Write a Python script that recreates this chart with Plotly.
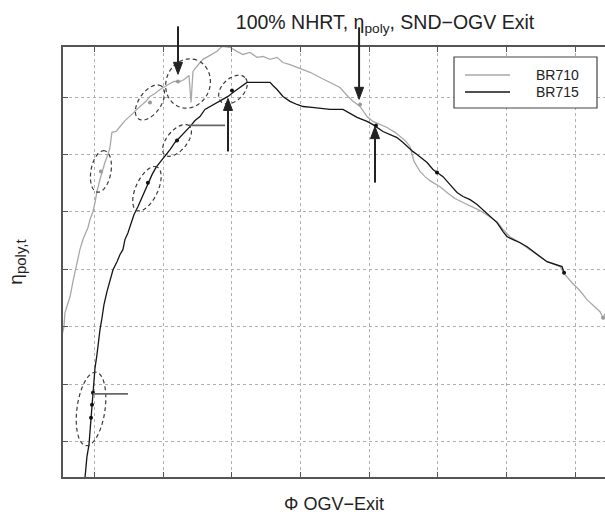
import numpy as np
import plotly.graph_objects as go

# ---------------- data ----------------
br710_phi = [0.3763, 0.3778, 0.3785, 0.3807, 0.3822, 0.3843, 0.3858, 0.3873, 0.3894, 0.3916,
             0.3953, 0.3967, 0.3989, 0.4004, 0.4018, 0.4040, 0.4055, 0.4076, 0.4098, 0.4113,
             0.4120, 0.4127, 0.4157, 0.4178, 0.4193, 0.4222, 0.4251, 0.4280, 0.4309, 0.4346,
             0.4375, 0.4404, 0.4440, 0.4477, 0.4513, 0.4550, 0.4579, 0.4622, 0.4652, 0.4688,
             0.4703, 0.4717, 0.4746, 0.4790, 0.4841, 0.4892, 0.4928, 0.4986, 0.5037, 0.5081,
             0.5132, 0.5183, 0.5227, 0.5278, 0.5329, 0.5372, 0.5423, 0.5474, 0.5518, 0.5569,
             0.5642, 0.5714, 0.5787, 0.5845, 0.5882, 0.5933, 0.5955, 0.5984, 0.6027, 0.6078,
             0.6129, 0.6188, 0.6224, 0.6260, 0.6297, 0.6311, 0.6326, 0.6370, 0.6406, 0.6442,
             0.6515, 0.6566, 0.6624, 0.6683, 0.6748, 0.6806, 0.6865, 0.6930, 0.6974, 0.7025,
             0.7098, 0.7192, 0.7294, 0.7389, 0.7425, 0.7476, 0.7534, 0.7585, 0.7629, 0.7680,
             0.7702, 0.7716]
br710_eta = [0.8369, 0.8401, 0.8449, 0.8484, 0.8505, 0.8557, 0.8592, 0.8624, 0.8669, 0.8704,
             0.8746, 0.8773, 0.8801, 0.8833, 0.8871, 0.8913, 0.8941, 0.8972, 0.9000, 0.9024,
             0.9052, 0.9077, 0.9080, 0.9094, 0.9101, 0.9118, 0.9129, 0.9143, 0.9157, 0.9171,
             0.9185, 0.9202, 0.9212, 0.9226, 0.9237, 0.9247, 0.9254, 0.9254, 0.9261, 0.9275,
             0.9181, 0.9289, 0.9307, 0.9331, 0.9345, 0.9359, 0.9376, 0.9373, 0.9359, 0.9348,
             0.9355, 0.9338, 0.9341, 0.9331, 0.9338, 0.9320, 0.9313, 0.9303, 0.9296, 0.9286,
             0.9268, 0.9251, 0.9233, 0.9202, 0.9185, 0.9167, 0.9153, 0.9132, 0.9115, 0.9104,
             0.9094, 0.9077, 0.9063, 0.9049, 0.9028, 0.9000, 0.8976, 0.8941, 0.8923, 0.8909,
             0.8888, 0.8868, 0.8847, 0.8833, 0.8819, 0.8805, 0.8787, 0.8766, 0.8739, 0.8714,
             0.8693, 0.8662, 0.8627, 0.8610, 0.8582, 0.8554, 0.8526, 0.8495, 0.8474, 0.8453,
             0.8432, 0.8446]

br715_phi = [0.3931, 0.3938, 0.3945, 0.3960, 0.3967, 0.3975, 0.3982, 0.3989, 0.3996, 0.4004,
             0.4018, 0.4025, 0.4040, 0.4055, 0.4069, 0.4091, 0.4113, 0.4135, 0.4164, 0.4186,
             0.4207, 0.4222, 0.4244, 0.4266, 0.4288, 0.4317, 0.4339, 0.4360, 0.4389, 0.4419,
             0.4448, 0.4477, 0.4513, 0.4550, 0.4586, 0.4622, 0.4659, 0.4695, 0.4732, 0.4768,
             0.4804, 0.4841, 0.4877, 0.4914, 0.4950, 0.4972, 0.5008, 0.5037, 0.5074, 0.5110,
             0.5183, 0.5278, 0.5299, 0.5329, 0.5372, 0.5423, 0.5474, 0.5518, 0.5583, 0.5642,
             0.5714, 0.5809, 0.5860, 0.5911, 0.5984, 0.6027, 0.6100, 0.6151, 0.6202, 0.6246,
             0.6275, 0.6319, 0.6348, 0.6391, 0.6421, 0.6464, 0.6493, 0.6537, 0.6588, 0.6639,
             0.6683, 0.6734, 0.6785, 0.6828, 0.6879, 0.6930, 0.6974, 0.7003, 0.7047, 0.7098,
             0.7149, 0.7192, 0.7243, 0.7294, 0.7338, 0.7374, 0.7403, 0.7418]
br715_eta = [0.7875, 0.7909, 0.7948, 0.7990, 0.8035, 0.8084, 0.8129, 0.8171, 0.8216, 0.8258,
             0.8303, 0.8338, 0.8390, 0.8432, 0.8477, 0.8523, 0.8564, 0.8599, 0.8627, 0.8652,
             0.8669, 0.8704, 0.8728, 0.8756, 0.8791, 0.8819, 0.8843, 0.8868, 0.8902, 0.8930,
             0.8955, 0.8972, 0.8993, 0.9017, 0.9042, 0.9059, 0.9080, 0.9097, 0.9118, 0.9132,
             0.9157, 0.9167, 0.9178, 0.9185, 0.9195, 0.9202, 0.9216, 0.9226, 0.9240, 0.9251,
             0.9251, 0.9251, 0.9240, 0.9226, 0.9202, 0.9185, 0.9174, 0.9167, 0.9164, 0.9160,
             0.9157, 0.9157, 0.9143, 0.9129, 0.9115, 0.9104, 0.9080, 0.9070, 0.9059, 0.9042,
             0.9028, 0.9010, 0.9000, 0.8982, 0.8972, 0.8948, 0.8937, 0.8923, 0.8895, 0.8868,
             0.8854, 0.8843, 0.8826, 0.8808, 0.8787, 0.8763, 0.8732, 0.8714, 0.8704, 0.8693,
             0.8679, 0.8662, 0.8645, 0.8627, 0.8620, 0.8617, 0.8610, 0.8589]

# highlighted operating points
br715_pts_phi = [0.3989, 0.3982, 0.3975, 0.4389, 0.4601, 0.5001, 0.6049, 0.6493, 0.7418]
br715_pts_eta = [0.8171, 0.8129, 0.8084, 0.8902, 0.9049, 0.9223, 0.9101, 0.8937, 0.8589]
br710_pts_phi = [0.4047, 0.4404, 0.4608, 0.5933, 0.7702]
br710_pts_eta = [0.8941, 0.9181, 0.9254, 0.9174, 0.8432]

# dashed ellipses: centre (phi, eta), semi-axes (px), angle (deg)
ell_cx = [0.4047, 0.4404, 0.4681, 0.4601, 0.5008, 0.4382, 0.3975]
ell_cy = [0.8941, 0.9181, 0.9247, 0.9049, 0.9226, 0.8881, 0.8115]
ell_a = [21, 20, 25, 19, 17, 24, 37]
ell_b = [10, 11, 22, 10, 11, 11, 14]
ell_ang = [80, 55, 70, 50, 45, 65, 82]

# arrows: tip (phi, eta), tail offset (px), with/without head
arr_x = [0.4608, 0.5926, 0.4972, 0.6042, 0.4688, 0.3989]
arr_y = [0.9279, 0.9192, 0.9195, 0.9097, 0.9101, 0.8167]
arr_ax = [0, 0, 0, 0, 36, 35]
arr_ay = [-48, -72, 53, 56, 0, 0]
arr_head = [True, True, True, True, False, False]

XR = [0.3771, 0.7716]
YR = [0.7878, 0.9374]
W, H = 605, 517
ML, MR, MT, MB = 63, 0, 47, 40
PW, PH = W - ML - MR, H - MT - MB
sx = PW / (XR[1] - XR[0])
sy = PH / (YR[1] - YR[0])

FONT = "Liberation Sans, Arial, sans-serif"
fig = go.Figure()
fig.add_trace(go.Scatter(x=br710_phi, y=br710_eta, mode="lines", name="BR710",
                         line=dict(color="#a8a8a8", width=1.3), showlegend=False))
fig.add_trace(go.Scatter(x=br715_phi, y=br715_eta, mode="lines", name="BR715",
                         line=dict(color="#151515", width=1.3), showlegend=False))
fig.add_trace(go.Scatter(x=br710_pts_phi, y=br710_pts_eta, mode="markers", showlegend=False,
                         marker=dict(color="#999999", size=4)))
fig.add_trace(go.Scatter(x=br715_pts_phi, y=br715_pts_eta, mode="markers", showlegend=False,
                         marker=dict(color="#111111", size=4)))


def px2paper_x(p):
    return (p - ML) / PW


def py2paper_y(p):
    return (H - MB - p) / PH


def data2px(x, y):
    return ML + (x - XR[0]) * sx, MT + (YR[1] - y) * sy


shapes = []
t = np.linspace(0, 2 * np.pi, 73)
for cx, cy, a, b, ang in zip(ell_cx, ell_cy, ell_a, ell_b, ell_ang):
    th = np.radians(ang)
    dx = a * np.cos(t) * np.cos(th) - b * np.sin(t) * np.sin(th)
    dy = a * np.cos(t) * np.sin(th) + b * np.sin(t) * np.cos(th)
    xs = cx + dx / sx
    ys = cy + dy / sy
    path = "M " + " L ".join(f"{x:.5f},{y:.5f}" for x, y in zip(xs, ys)) + " Z"
    shapes.append(dict(type="path", path=path, xref="x", yref="y",
                       line=dict(color="#3a3a3a", width=1.2, dash="4px,3px")))

# arrows as shapes (paper coordinates, so they may leave the plot area)
for x, y, ax, ay, hd in zip(arr_x, arr_y, arr_ax, arr_ay, arr_head):
    tx, ty = data2px(x, y)
    lx, ly = tx + ax, ty + ay
    if hd:
        L, hw = 12.0, 4.5
        d = np.hypot(tx - lx, ty - ly)
        ux, uy = (tx - lx) / d, (ty - ly) / d
        bx, by = tx - ux * L, ty - uy * L
        shapes.append(dict(type="line", xref="paper", yref="paper",
                           x0=px2paper_x(lx), y0=py2paper_y(ly),
                           x1=px2paper_x(bx), y1=py2paper_y(by),
                           line=dict(color="#222222", width=2)))
        p1 = (bx - uy * hw, by + ux * hw)
        p2 = (bx + uy * hw, by - ux * hw)
        tri = (f"M {px2paper_x(tx):.5f},{py2paper_y(ty):.5f} "
               f"L {px2paper_x(p1[0]):.5f},{py2paper_y(p1[1]):.5f} "
               f"L {px2paper_x(p2[0]):.5f},{py2paper_y(p2[1]):.5f} Z")
        shapes.append(dict(type="path", path=tri, xref="paper", yref="paper",
                           fillcolor="#222222", line=dict(color="#222222", width=1)))
    else:
        shapes.append(dict(type="line", xref="paper", yref="paper",
                           x0=px2paper_x(lx), y0=py2paper_y(ly),
                           x1=px2paper_x(tx), y1=py2paper_y(ty),
                           line=dict(color="#666666", width=1.8)))

# manual legend
shapes.append(dict(type="rect", xref="paper", yref="paper",
                   x0=px2paper_x(454), x1=px2paper_x(597), y0=py2paper_y(108), y1=py2paper_y(57),
                   line=dict(color="#444444", width=1.2), fillcolor="white", layer="above"))
legend_names = ["BR710", "BR715"]
legend_colors = ["#a8a8a8", "#151515"]
legend_py = [75, 92]
annotations = []
for nm, col, py in zip(legend_names, legend_colors, legend_py):
    shapes.append(dict(type="line", xref="paper", yref="paper",
                       x0=px2paper_x(465), x1=px2paper_x(510), y0=py2paper_y(py), y1=py2paper_y(py),
                       line=dict(color=col, width=1.3), layer="above"))
    annotations.append(dict(text=nm, xref="paper", yref="paper", x=px2paper_x(581), y=py2paper_y(py),
                            xanchor="right", yanchor="middle", showarrow=False,
                            font=dict(family=FONT, size=14, color="#222")))

axis_common = dict(showgrid=True, gridcolor="#b0b0b0", griddash="dot", gridwidth=1,
                   zeroline=False, showline=True, linecolor="#555555", linewidth=1.5,
                   ticks="inside", ticklen=5, tickcolor="#555555", showticklabels=False)
fig.update_layout(
    width=W, height=H, margin=dict(l=ML, r=MR, t=MT, b=MB),
    paper_bgcolor="white", plot_bgcolor="white",
    title=dict(text="100% NHRT, η<sub>poly</sub>, SND−OGV Exit", xref="paper",
               x=px2paper_x(385), xanchor="center", yref="container", y=1 - 22 / H,
               yanchor="middle", font=dict(family=FONT, size=19.5, color="#222")),
    xaxis=dict(range=XR, tick0=0.40, dtick=0.05, mirror="ticks",
               title=dict(text="Φ OGV−Exit", standoff=20,
                          font=dict(family=FONT, size=18, color="#222")), **axis_common),
    yaxis=dict(range=YR, tick0=0.80, dtick=0.02, mirror=False,
               title=dict(text="η<sub><span style=\"font-size:15px\">poly,t</span></sub>",
                          standoff=34, font=dict(family=FONT, size=19, color="#222")),
               **axis_common),
    shapes=shapes, annotations=annotations, showlegend=False,
)
fig.write_html("out.html")
